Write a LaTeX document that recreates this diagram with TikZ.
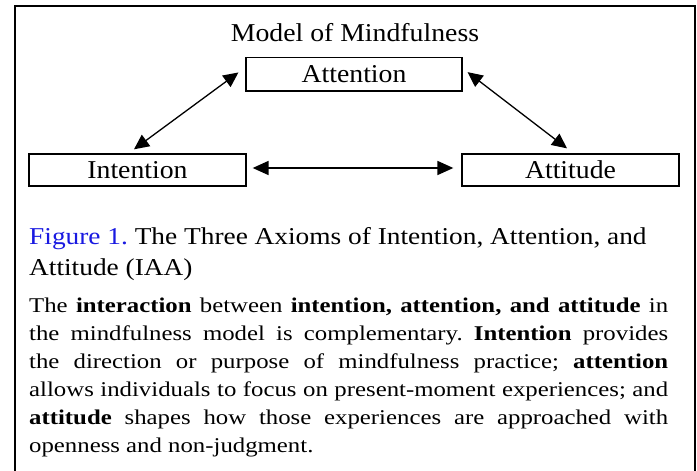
\documentclass[tikz,border=0pt]{standalone}
\usepackage{fontspec}
\setmainfont{Liberation Serif}[FakeStretch=1.18]
\newfontfamily\labelfont{Liberation Serif}[FakeStretch=1.08]
\newfontfamily\captionfont{Liberation Serif}[FakeStretch=1.13]
\usetikzlibrary{arrows.meta}
\definecolor{figblue}{RGB}{25,25,225}
\tikzset{
  outerframe/.style={line width=2pt},
  labelbox/.style={draw, line width=1.3pt, inner sep=0pt, text height=17pt, text depth=0pt,
    font=\labelfont\fontsize{25.7}{30}\selectfont},
  titletext/.style={inner sep=0pt, anchor=base, font=\labelfont\fontsize{25.7}{30}\selectfont},
  textblock/.style={inner sep=0pt, anchor=base west},
  link/.style={line width=1.3pt, {Triangle[length=15pt,width=14pt]}-{Triangle[length=15pt,width=14pt]}},
  hlink/.style={line width=1.8pt, {Triangle[length=16pt,width=14pt]}-{Triangle[length=16pt,width=14pt]}}
}
\begin{document}
\frenchspacing
\begin{tikzpicture}[x=1pt,y=-1pt]
\useasboundingbox (0,0) rectangle (697,471);
\fill[white] (0,0) rectangle (697,471);
% outer frame (open at the bottom)
\draw[outerframe] (15,471) -- (15,5.9) -- (694.7,5.9) -- (694.7,471);
% title
\node[titletext] (title) at (355,41.7) {Model of Mindfulness};
% boxes
\node[labelbox, minimum width=216pt, minimum height=33.3pt] (attention) at (354,74.35) {Attention};
\node[labelbox, minimum width=217pt, minimum height=32pt] (intention) at (137.5,170) {Intention};
\node[labelbox, minimum width=217pt, minimum height=32pt] (attitude) at (570.5,170) {Attitude};
% connectors
\draw[link, shorten <=6.8pt, shorten >=8.6pt] ([xshift=-9pt]intention.north) -- ([yshift=7pt]attention.west);
\draw[link, shorten <=6.2pt, shorten >=8.2pt] ([yshift=6pt]attention.east) -- ([xshift=3pt]attitude.north);
\draw[hlink, shorten <=6pt, shorten >=8pt] ([yshift=2pt]intention.east) -- ([yshift=2pt]attitude.west);
% caption
\node[textblock] (caption) at (29,244) {\parbox[t]{665pt}{\captionfont\fontsize{24.2}{31}\selectfont\raggedright
\mbox{\textcolor{figblue}{Figure 1.} The Three Axioms of Intention, Attention, and}\\
Attitude (IAA)}};
% body
\node[textblock] (body) at (29,312.5) {\parbox[t]{639pt}{\fontsize{21}{28}\selectfont
\makebox[639pt][s]{The \textbf{interaction} between \textbf{intention, attention, and attitude} in}\\
\makebox[639pt][s]{the mindfulness model is complementary. \textbf{Intention} provides}\\
\makebox[639pt][s]{the direction or purpose of mindfulness practice; \textbf{attention}}\\
\makebox[639pt][s]{allows individuals to focus on present-moment experiences; and}\\
\makebox[639pt][s]{\textbf{attitude} shapes how those experiences are approached with}\\
openness and non-judgment.}};
\end{tikzpicture}
\end{document}
